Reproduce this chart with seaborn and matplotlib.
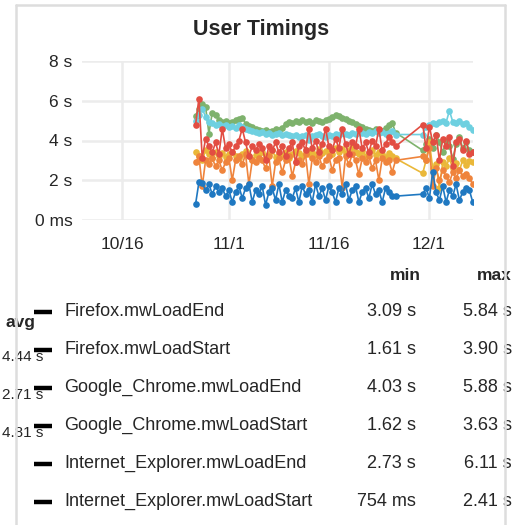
import pandas as pd
import seaborn as sns
import matplotlib.pyplot as plt
from matplotlib.lines import Line2D
from matplotlib.ticker import FuncFormatter

# two runs of samples (every 12 h), with a gap between 11/26 and 11/30
times_a = pd.date_range('2015-10-27 00:00', periods=61, freq='12h')
times_b = pd.date_range('2015-11-30 02:00', periods=16, freq='12h')
times = times_a.append(times_b)

series_names = ['Firefox.mwLoadEnd', 'Firefox.mwLoadStart',
                'Google_Chrome.mwLoadEnd', 'Google_Chrome.mwLoadStart',
                'Internet_Explorer.mwLoadEnd', 'Internet_Explorer.mwLoadStart']
colors = ['#7eb26d', '#eab839', '#6ed0e0', '#ef843c', '#e24d42', '#1f78c1']

# seconds
ff_end = [5.25, 5.60, 5.84, 5.70, 4.35, 5.40, 5.30, 5.05, 4.95, 5.00,
          4.90, 4.95, 5.05, 5.10, 5.15, 4.85, 4.75, 4.70, 4.60, 4.55,
          4.50, 4.55, 4.45, 4.50, 4.60, 4.55, 4.65, 4.85, 4.95, 4.90,
          5.00, 4.95, 5.05, 4.95, 5.00, 4.90, 5.05, 5.00, 4.95, 5.05,
          5.10, 5.20, 5.30, 5.25, 5.15, 5.10, 5.00, 4.95, 4.85, 4.75,
          4.70, 4.60, 4.55, 4.50, 4.60, 4.55, 4.50, 4.65, 4.80, 4.90, 4.40,
          3.50, 3.80, 4.10, 3.60, 4.30, 3.90, 3.40, 4.00, 3.70, 3.09,
          3.80, 4.20, 3.60, 3.90, 3.50, 3.40]
ff_start = [3.40, 3.20, 3.00, 3.50, 3.30, 3.10, 3.40, 3.20, 3.35, 3.15,
            3.30, 3.40, 3.20, 3.10, 3.30, 3.45, 3.20, 3.00, 3.25, 3.35,
            3.40, 3.20, 3.30, 3.50, 3.15, 3.30, 3.20, 3.40, 3.10, 3.30,
            3.45, 3.35, 3.20, 3.50, 3.30, 3.40, 3.25, 3.55, 3.35, 3.45,
            3.50, 3.30, 3.60, 3.40, 3.55, 3.35, 3.50, 3.65, 3.40, 3.30,
            3.45, 3.20, 3.35, 3.50, 3.25, 3.40, 3.30, 3.15, 3.35, 3.20, 3.10,
            2.35, 3.00, 3.90, 2.60, 2.80, 1.61, 2.90, 2.70, 3.10, 2.60,
            2.85, 2.50, 3.00, 2.75, 2.95, 2.90]
chrome_end = [5.00, 5.30, 5.60, 5.20, 4.95, 4.90, 4.80, 4.85, 4.75, 4.80,
              4.70, 4.75, 4.65, 4.80, 4.70, 4.60, 4.55, 4.50, 4.45, 4.40,
              4.45, 4.35, 4.40, 4.30, 4.35, 4.40, 4.30, 4.35, 4.30, 4.25,
              4.30, 4.20, 4.25, 4.30, 4.03, 4.25, 4.30, 4.35, 4.25, 4.20,
              4.30, 4.25, 4.35, 4.30, 4.40, 4.35, 4.30, 4.40, 4.35, 4.45,
              4.40, 4.35, 4.45, 4.40, 4.50, 4.40, 4.45, 4.35, 4.40, 4.50, 4.30,
              4.30, 4.70, 4.80, 4.90, 4.85, 4.95, 5.00, 4.90, 5.50, 4.95,
              4.90, 5.00, 4.85, 4.90, 4.70, 4.55]
chrome_start = [2.90, 3.20, 1.70, 3.00, 2.80, 3.10, 2.70, 3.00, 2.50, 2.90,
                3.10, 2.00, 3.00, 3.20, 2.80, 3.30, 1.80, 3.00, 2.90, 3.10,
                3.00, 2.60, 3.20, 1.70, 2.90, 3.10, 2.40, 3.00, 3.20, 2.20,
                2.90, 3.00, 2.80, 3.30, 1.80, 3.10, 2.90, 3.20, 2.70, 3.00,
                3.20, 2.50, 3.00, 3.10, 1.62, 3.20, 2.80, 3.30, 3.00, 2.30,
                3.10, 2.90, 3.20, 2.60, 3.00, 2.00, 3.10, 2.90, 3.00, 2.40, 3.00,
                3.20, 3.00, 3.63, 1.70, 2.60, 2.00, 2.50, 2.20, 1.90, 2.40,
                2.10, 2.50, 2.20, 2.30, 2.10, 1.80]
ie_end = [4.80, 6.11, 3.10, 4.10, 3.70, 3.40, 3.90, 3.30, 4.60, 3.60,
          3.80, 3.40, 3.70, 4.00, 4.60, 3.90, 3.20, 3.70, 3.50, 3.80,
          3.60, 3.00, 3.70, 3.50, 3.90, 3.40, 3.70, 3.20, 3.60, 3.90,
          2.90, 3.70, 3.90, 3.50, 4.60, 3.60, 4.00, 3.40, 3.80, 4.60,
          3.70, 3.50, 4.10, 3.60, 4.60, 3.80, 3.30, 3.90, 3.70, 4.60,
          3.60, 3.90, 3.40, 4.00, 3.70, 4.60, 3.50, 3.80, 4.20, 3.90, 3.70,
          4.80, 3.60, 4.70, 3.90, 4.30, 3.00, 4.10, 3.70, 4.20, 2.73,
          3.90, 4.10, 3.50, 4.00, 3.30, 3.40]
ie_start = [0.80, 1.90, 1.85, 1.50, 1.80, 1.30, 1.70, 1.40, 1.60, 1.20,
            1.50, 0.90, 1.40, 1.70, 1.10, 1.60, 1.80, 0.90, 1.50, 1.30,
            1.70, 0.754, 1.40, 1.60, 1.00, 1.80, 0.90, 1.50, 1.20, 1.10,
            1.60, 0.90, 1.70, 1.30, 1.50, 0.90, 1.80, 1.20, 1.60, 1.00,
            1.70, 1.40, 0.90, 1.60, 1.30, 1.80, 1.00, 1.50, 1.70, 0.90,
            1.40, 1.60, 1.10, 1.80, 1.30, 1.50, 0.90, 1.60, 1.40, 1.20, 1.20,
            1.30, 1.60, 1.10, 2.41, 1.40, 1.00, 1.70, 0.90, 1.50, 1.20,
            1.80, 1.00, 1.40, 1.60, 1.50, 0.90]

mins = ['3.09 s', '1.61 s', '4.03 s', '1.62 s', '2.73 s', '754 ms']
maxs = ['5.84 s', '3.90 s', '5.88 s', '3.63 s', '6.11 s', '2.41 s']
avgs = ['4.44 s', '2.71 s', '4.81 s']

x_ticks = pd.to_datetime(['2015-10-16', '2015-11-01', '2015-11-16', '2015-12-01'])
x_labels = ['10/16', '11/1', '11/16', '12/1']

all_values = [ff_end, ff_start, chrome_end, chrome_start, ie_end, ie_start]
df = pd.concat([pd.DataFrame({'time': times, 'value': v, 'series': n})
                for n, v in zip(series_names, all_values)], ignore_index=True)

sns.set_style('white')
plt.rcParams['font.family'] = ['Liberation Sans', 'DejaVu Sans']

W = H = 525
fig = plt.figure(figsize=(5.25, 5.25), dpi=100)


def fx(px):
    return px / W


def fy(py):
    return 1 - py / H


ax = fig.add_axes([fx(82), fy(220), fx(473 - 82), (220 - 61) / H])
sns.lineplot(data=df, x='time', y='value', hue='series', hue_order=series_names,
             palette=colors, marker='o', markersize=4.8, markeredgewidth=0,
             linewidth=1.2, legend=False, sort=True, ax=ax)

ax.set_ylim(0, 8)
ax.set_yticks([0, 2, 4, 6, 8])
ax.yaxis.set_major_formatter(FuncFormatter(lambda v, p: '0 ms' if v == 0 else f'{v:g} s'))
ax.set_xlim(pd.Timestamp('2015-10-09 23:00'), pd.Timestamp('2015-12-07 15:00'))
ax.set_xticks(x_ticks)
ax.set_xticklabels(x_labels)
ax.set_xlabel('')
ax.set_ylabel('')
ax.grid(True, color='#ececec', linewidth=1.8)
ax.set_axisbelow(True)
for s in ax.spines.values():
    s.set_visible(False)
ax.tick_params(axis='y', length=0, pad=7, labelsize=12.5)
ax.tick_params(axis='x', length=0, pad=12, labelsize=12.5)

fig.text(fx(261), fy(30), 'User Timings', ha='center', va='center',
         fontsize=15.5, fontweight='bold')

# legend table
fig.text(fx(421), fy(275), 'min', ha='right', va='center', fontsize=12.5, fontweight='bold')
fig.text(fx(512), fy(275), 'max', ha='right', va='center', fontsize=12.5, fontweight='bold')
row_y = [311, 349, 387, 425, 463, 501]
for name, lo, hi, y in zip(series_names, mins, maxs, row_y):
    fig.add_artist(Line2D([fx(34), fx(52)], [fy(y + 1), fy(y + 1)], color='black',
                          linewidth=3.2, solid_capstyle='butt', zorder=5))
    fig.text(fx(64), fy(y), name, ha='left', va='center', fontsize=13)
    fig.text(fx(416), fy(y), lo, ha='right', va='center', fontsize=13)
    fig.text(fx(512), fy(y), hi, ha='right', va='center', fontsize=13)

# avg column squeezed against the left edge
fig.text(fx(36), fy(322), 'avg', ha='right', va='center', fontsize=12.5, fontweight='bold')
for a, y in zip(avgs, [357, 395, 433]):
    fig.text(fx(43), fy(y), a, ha='right', va='center', fontsize=11)

# panel border
border = dict(color='#dddddd', linewidth=1.8, zorder=10)
fig.add_artist(Line2D([fx(16), fx(16)], [fy(5), fy(525)], **border))
fig.add_artist(Line2D([fx(505), fx(505)], [fy(5), fy(525)], **border))
fig.add_artist(Line2D([fx(16), fx(505)], [fy(5), fy(5)], **border))

fig.savefig('out.png', dpi=100)
